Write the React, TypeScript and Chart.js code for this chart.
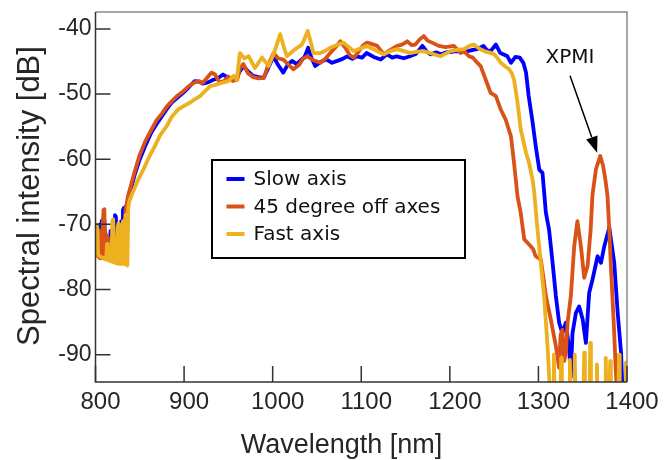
import React, { useEffect, useRef } from "react";
import { Chart, registerables } from "chart.js";

Chart.register(...registerables);

// ---------- data ----------
const xTickValues = [800, 900, 1000, 1100, 1200, 1300, 1400];
const yTickValues = [-90, -80, -70, -60, -50, -40];
const xTitle = "Wavelength [nm]";
const yTitle = "Spectral intensity [dB]";
const seriesLabels = ["Slow axis", "45 degree off axes", "Fast axis"];
const seriesColors = ["#0000FF", "#D95319", "#EDB120"];
const annotationText = "XPMI";
const annotationTextAt = [1335.7, -44.4];
const annotationArrowFrom = [1335.7, -47.2];
const annotationArrowTo = [1366.3, -59.0];

const slowWl = [
  800, 801, 802, 803, 804, 805, 806, 807, 808, 809, 810, 811, 812, 813, 814, 815, 816, 817, 818, 819,
  820, 821, 822, 823, 824, 825, 826, 827, 828, 829, 830, 831, 832, 833, 834, 835, 836, 837, 838, 839,
  844, 850, 856, 863, 869, 875, 880, 886, 892, 899, 905, 912, 917, 921, 927, 933, 938, 944, 950, 955,
  959, 963, 967, 972, 978, 984, 990, 995, 1001, 1006, 1012, 1017, 1022, 1027, 1031, 1036, 1040, 1044,
  1048, 1055, 1061, 1067, 1073, 1079, 1084, 1090, 1095, 1101, 1106, 1114, 1122, 1129, 1135, 1140, 1148,
  1155, 1162, 1169, 1174, 1178, 1185, 1190, 1196, 1203, 1208, 1214, 1220, 1226, 1231, 1238, 1242, 1246,
  1252, 1257, 1262, 1265, 1269, 1274, 1279, 1283, 1286, 1289, 1293, 1297, 1301, 1304.6, 1308.4, 1312,
  1316, 1319.7, 1323.4, 1327, 1331, 1334.8, 1336.5, 1338.5, 1342.3, 1346, 1350, 1353.6, 1357.3, 1361,
  1366.8, 1370.6, 1374.3, 1380, 1385.6, 1389.5, 1393.3, 1395, 1400,
];
const slowDb = [
  -72, -70.5, -71.3, -70.2, -73.5, -70, -74, -69.5, -69.3, -73, -69.4, -73.5, -71.8, -74, -74.2, -73, -74.5, -71, -74.8, -75,
  -74, -71, -68.6, -68.8, -74.5, -75.2, -72.8, -75.5, -71, -69.5, -74.5, -67.8, -67.5, -70, -67.3, -67.2, -66.6, -66.2, -65.6, -65.1,
  -62.5, -60.0, -58.0, -55.9, -54.6, -53.4, -52.4, -51.3, -50.6, -49.8, -49.0, -48.0, -48.1, -48.4, -48.2, -47.8, -47.6, -47.0, -47.5, -47.8,
  -47.6, -46.5, -45.7, -46.5, -47.2, -47.4, -47.5, -46.0, -44.2, -45.5, -46.7, -45.5, -44.9, -45.4, -44.9, -44.3, -42.9, -44.5,
  -45.7, -45.0, -44.7, -45.2, -44.9, -44.6, -44.2, -44.6, -44.2, -44.4, -43.7, -44.3, -44.7, -43.9, -44.4, -44.2, -44.5,
  -44.2, -43.8, -42.6, -43.5, -43.9, -43.6, -43.9, -43.6, -43.5, -43.4, -43.5, -43.4, -43.2, -43.1, -42.6, -43.3, -43.4,
  -42.4, -43.7, -44.0, -44.2, -45.2, -44.3, -44.4, -45.2, -46.7, -50.3, -53.9, -58.0, -61.6, -62.1, -68.2, -70.8,
  -75.9, -81.0, -85.1, -86.7, -85.1, -89.2, -93.5, -86.7, -83.6, -82.6, -84.6, -88.2, -80.5, -78.5,
  -74.9, -75.9, -73.4, -70.5, -75.9, -83.6, -89.7, -96, -96,
];

const offWl = [
  800, 801, 802, 803, 804, 805, 806, 807, 808, 809, 810, 811, 812, 813, 814, 815, 816, 818, 820, 822,
  824, 826, 828, 830, 831, 832, 833, 834, 835, 836, 837, 838, 839,
  844, 850, 856, 863, 869, 875, 880, 886, 892, 899, 905, 912, 917, 921, 926, 931, 935, 940, 945, 950,
  955, 960, 963, 967, 972, 978, 984, 990, 995, 1001, 1006, 1012, 1018, 1023.5, 1030, 1034, 1039, 1046,
  1054, 1060, 1065, 1071, 1076.5, 1082, 1087, 1091.5, 1097, 1102, 1106.5, 1112, 1118, 1125.5, 1133,
  1140.5, 1146, 1152, 1157, 1161, 1166, 1170.5, 1175, 1180, 1187.5, 1195, 1204.5, 1212, 1216, 1221.5,
  1226, 1229, 1234.8, 1240.5, 1246, 1252, 1257.5, 1263, 1269, 1272.5, 1276.4, 1280, 1284, 1289.5, 1294,
  1297, 1302.7, 1306, 1308.4, 1314, 1319.7, 1323.4, 1325, 1327, 1329, 1331, 1333, 1336.6, 1340.4, 1344,
  1348, 1351.7, 1355.5, 1359, 1361, 1365, 1369.8, 1373, 1376, 1378, 1380, 1382, 1385, 1387.5, 1389, 1400,
];
const offDb = [
  -74, -71, -71.2, -75, -71, -75.2, -71.5, -75.2, -70.8, -67.8, -67.7, -75.3, -71.5, -75.3, -72, -75.4, -75.5, -75.6, -75.7, -75.8,
  -75.9, -76, -76, -74, -71, -69.5, -75, -67.5, -67, -66.2, -65.5, -65, -64.5,
  -62, -59.3, -57.3, -55.5, -54.0, -53.0, -52.0, -51.1, -50.3, -49.6, -48.8, -48.2, -48.0, -48.3, -47.5, -46.7, -47.0, -48.2, -48.0, -47.3,
  -48.0, -47.8, -46.0, -45.4, -46.8, -47.4, -47.6, -47.5, -45.5, -43.7, -44.5, -44.7, -45.5, -46.2, -45.5, -44.6, -44.2, -44.8,
  -45.2, -44.5, -43.7, -42.8, -41.9, -42.9, -44.0, -44.4, -43.5, -42.5, -42.1, -42.3, -42.6, -43.9, -43.2,
  -42.6, -42.4, -41.9, -42.5, -42.4, -41.6, -41.1, -41.8, -42.1, -42.6, -42.8, -42.6, -43.7, -43.4, -44.2,
  -44.4, -44.9, -45.7, -47.8, -49.8, -50.3, -52.4, -53.9, -56.5, -60.6, -65.7, -68.2, -72.3, -73.1, -73.8,
  -74.9, -75.4, -78.5, -81.0, -84.6, -88.7, -92, -87, -86.2, -91, -89.7, -85, -81.0, -73.4, -69.5,
  -73.4, -78.2, -76.4, -70.8, -65.5, -61.5, -59.5, -61, -63.5, -65.7, -70.8, -77, -85, -92.8, -96, -96,
];

const fastWl = [
  800, 801, 802, 803, 804, 806, 808, 810, 812, 813, 814, 816, 818, 819, 820, 821, 822, 824, 825, 826,
  827, 828, 829, 830, 831, 832, 833, 834, 835, 836, 837, 838,
  842, 848, 854, 860, 867, 873, 880.5, 886, 893, 900, 907, 912, 918, 924, 929.5, 937, 944, 950, 956,
  959.5, 963, 968, 973, 980, 988, 995.5, 1002, 1008.5, 1012, 1016, 1025.5, 1033, 1036, 1039.5, 1043,
  1046, 1054, 1060, 1065, 1072, 1080, 1086, 1091.5, 1099, 1106.5, 1112, 1118, 1125.5, 1133, 1140.5,
  1148, 1155.5, 1163, 1170.5, 1180, 1189.5, 1195, 1201, 1208, 1216, 1222, 1227, 1233, 1238.6, 1244,
  1250, 1254, 1257.5, 1263, 1267, 1270, 1272.5, 1276.4, 1280, 1286, 1289.5, 1293.3, 1295, 1299, 1302.7,
  1306.4, 1310.3, 1313.2, 1316.7, 1317.5, 1318.3, 1324.9, 1325.7, 1326.5, 1334.7, 1335.5, 1336.3,
  1340.2, 1341, 1341.8, 1350.9, 1351.7, 1352.5, 1357.7, 1358.5, 1359.3, 1365.2, 1366, 1366.8, 1375.2,
  1376, 1376.8, 1380.2, 1381, 1381.8, 1390.2, 1391, 1391.8, 1398, 1398.8, 1399.6,
];
const fastDb = [
  -74.5, -70, -70.5, -74.6, -74.8, -75, -75.1, -75.3, -75.4, -73, -75.5, -75.6, -75.7, -69.5, -69.2, -75.8, -75.9, -76, -70.5, -69.8,
  -76, -76.1, -74, -70, -69.5, -76.1, -70, -68.5, -76.2, -76.3, -67.5, -66.5,
  -65.1, -63.2, -61.6, -59.8, -58.0, -56.3, -54.9, -53.5, -52.4, -51.8, -51.3, -50.8, -50.3, -49.5, -48.8, -48.5, -48.2, -48.0, -47.2,
  -47.8, -43.7, -44.5, -44.2, -46.0, -44.4, -45.7, -43.5, -40.8, -42.5, -44.2, -43.1, -42.4, -41.5, -40.3, -42.0,
  -43.7, -43.7, -43.3, -42.9, -42.5, -42.1, -42.8, -43.4, -43.0, -42.6, -43.0, -43.4, -43.9, -43.4, -43.1,
  -43.4, -43.7, -43.5, -43.4, -43.8, -44.2, -43.8, -43.4, -43.2, -43.1, -42.6, -42.4, -43.0, -43.4, -43.6,
  -43.9, -44.5, -45.2, -45.8, -46.2, -46.8, -47.8, -51.3, -55.4, -59.0, -60.6, -63.1, -64.7, -70.8, -75.9,
  -81.0, -88.7, -96, -96, -90.0, -96, -96, -90.5, -96, -96, -90.8, -96,
  -96, -90.0, -96, -96, -89.7, -96, -96, -88.2, -96, -96, -91.5, -96, -96,
  -90.5, -96, -96, -91.0, -96, -96, -90.0, -96, -96, -91.2, -96,
];

const seriesWl = [slowWl, offWl, fastWl];
const seriesDb = [slowDb, offDb, fastDb];

// ---------- styles ----------
const TICK_FONT = "'Liberation Sans', Arial, sans-serif";
const LEGEND_FONT = "'DejaVu Sans', Verdana, sans-serif";
const TEXT_COLOR = "#262626";

const decorPlugin = {
  id: "decor",
  afterDatasetsDraw(chart: any) {
    const { ctx, chartArea: a, scales } = chart;
    const xs = scales.x;
    const ys = scales.y;
    ctx.save();

    // frame: top/right light gray, left/bottom dark
    ctx.lineWidth = 1.5;
    ctx.strokeStyle = "#8a8a8a";
    ctx.beginPath();
    ctx.moveTo(a.left, a.top);
    ctx.lineTo(a.right, a.top);
    ctx.lineTo(a.right, a.bottom);
    ctx.stroke();
    ctx.strokeStyle = "#333333";
    ctx.beginPath();
    ctx.moveTo(a.left, a.top);
    ctx.lineTo(a.left, a.bottom);
    ctx.lineTo(a.right, a.bottom);
    ctx.stroke();

    // inward ticks
    ctx.lineWidth = 1.5;
    ctx.strokeStyle = "#333333";
    ctx.beginPath();
    xTickValues.forEach((v) => {
      const px = xs.getPixelForValue(v);
      ctx.moveTo(px, a.bottom);
      ctx.lineTo(px, a.bottom - 16);
    });
    yTickValues.forEach((v) => {
      const py = ys.getPixelForValue(v);
      ctx.moveTo(a.left, py);
      ctx.lineTo(a.left + 15, py);
    });
    ctx.stroke();

    // axis titles
    ctx.fillStyle = TEXT_COLOR;
    ctx.textAlign = "center";
    ctx.textBaseline = "alphabetic";
    ctx.font = `27px ${TICK_FONT}`;
    ctx.fillText(xTitle, a.left + 246, 453);
    ctx.save();
    ctx.translate(39, (a.top + a.bottom) / 2 - 1);
    ctx.rotate(-Math.PI / 2);
    ctx.font = `31px ${TICK_FONT}`;
    ctx.fillText(yTitle, 0, 0);
    ctx.restore();

    // legend box
    const bx = a.left + 116.5;
    const by = a.top + 148;
    const bw = 253;
    const bh = 98;
    ctx.fillStyle = "#ffffff";
    ctx.fillRect(bx, by, bw, bh);
    ctx.lineWidth = 2;
    ctx.strokeStyle = "#000000";
    ctx.strokeRect(bx, by, bw, bh);
    ctx.font = `20px ${LEGEND_FONT}`;
    ctx.textBaseline = "middle";
    ctx.textAlign = "left";
    chart.data.datasets.forEach((ds: any, i: number) => {
      const ry = by + 20 + i * 27.5;
      ctx.strokeStyle = ds.borderColor;
      ctx.lineWidth = 4;
      ctx.beginPath();
      ctx.moveTo(bx + 14.5, ry - 1);
      ctx.lineTo(bx + 32.5, ry - 1);
      ctx.stroke();
      ctx.fillStyle = "#111111";
      ctx.fillText(ds.label, bx + 41.5, ry);
    });

    // XPMI annotation
    const tx = xs.getPixelForValue(annotationTextAt[0]);
    const ty = ys.getPixelForValue(annotationTextAt[1]);
    ctx.fillStyle = "#111111";
    ctx.textAlign = "center";
    ctx.fillText(annotationText, tx, ty);
    const x0 = xs.getPixelForValue(annotationArrowFrom[0]);
    const y0 = ys.getPixelForValue(annotationArrowFrom[1]);
    const x1 = xs.getPixelForValue(annotationArrowTo[0]);
    const y1 = ys.getPixelForValue(annotationArrowTo[1]);
    const ang = Math.atan2(y1 - y0, x1 - x0);
    const headLen = 16;
    const headHalf = 6;
    const hx = x1 - headLen * Math.cos(ang);
    const hy = y1 - headLen * Math.sin(ang);
    ctx.strokeStyle = "#000000";
    ctx.lineWidth = 1.5;
    ctx.beginPath();
    ctx.moveTo(x0, y0);
    ctx.lineTo(hx, hy);
    ctx.stroke();
    ctx.fillStyle = "#000000";
    ctx.beginPath();
    ctx.moveTo(x1, y1);
    ctx.lineTo(hx + headHalf * Math.sin(ang), hy - headHalf * Math.cos(ang));
    ctx.lineTo(hx - headHalf * Math.sin(ang), hy + headHalf * Math.cos(ang));
    ctx.closePath();
    ctx.fill();

    ctx.restore();
  },
};

export default function App() {
  const canvasRef = useRef<HTMLCanvasElement | null>(null);

  useEffect(() => {
    if (!canvasRef.current) return;
    const datasets = seriesLabels.map((label, i) => ({
      label,
      data: seriesWl[i].map((w, j) => ({ x: w, y: seriesDb[i][j] })),
      borderColor: seriesColors[i],
      backgroundColor: seriesColors[i],
      borderWidth: 3.8,
      pointRadius: 0,
      tension: 0,
      borderJoinStyle: "round" as const,
      fill: false,
      order: 3 - i,
    }));

    const chart = new Chart(canvasRef.current, {
      type: "line",
      data: { datasets },
      plugins: [decorPlugin],
      options: {
        responsive: false,
        animation: false,
        devicePixelRatio: 1,
        layout: { padding: { left: 0, top: 12, right: 40, bottom: 0 } },
        plugins: { legend: { display: false }, tooltip: { enabled: false } },
        scales: {
          x: {
            type: "linear",
            min: 800,
            max: 1400,
            afterBuildTicks: (s: any) => {
              s.ticks = xTickValues.map((v) => ({ value: v }));
            },
            afterFit: (s: any) => {
              s.height = 78;
              s.paddingLeft = 0;
              s.paddingRight = 0;
            },
            grid: { display: false, drawTicks: false },
            border: { display: false },
            ticks: {
              autoSkip: false,
              maxRotation: 0,
              padding: 6,
              labelOffset: 5,
              color: TEXT_COLOR,
              font: { family: TICK_FONT, size: 24, lineHeight: 1.2 },
              callback: (v: any) => String(v),
            },
            title: { display: false },
          },
          y: {
            type: "linear",
            min: -94.2,
            max: -37.4,
            afterBuildTicks: (s: any) => {
              s.ticks = yTickValues.map((v) => ({ value: v }));
            },
            afterFit: (s: any) => {
              s.width = 95.5;
              s.paddingTop = 0;
              s.paddingBottom = 0;
            },
            grid: { display: false, drawTicks: false },
            border: { display: false },
            ticks: {
              padding: 4,
              color: TEXT_COLOR,
              font: { family: TICK_FONT, size: 23, lineHeight: 1.2 },
              callback: (v: any) => String(v),
            },
            title: { display: false },
          },
        },
      },
    });
    return () => chart.destroy();
  }, []);

  return (
    <div style={{ position: "fixed", left: 0, top: 0, width: 667, height: 460, background: "#ffffff" }}>
      <canvas ref={canvasRef} width={667} height={460} style={{ display: "block", width: 667, height: 460 }} />
    </div>
  );
}
